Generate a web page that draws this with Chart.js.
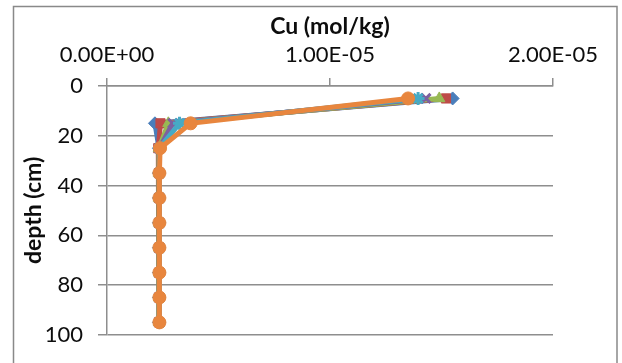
<!DOCTYPE html>
<html>
<head>
<meta charset="utf-8">
<script src="https://cdn.jsdelivr.net/npm/chart.js@4/dist/chart.umd.min.js"></script>
<style>
  html, body { margin: 0; padding: 0; background: #fff; }
  canvas { display: block; }
</style>
</head>
<body>
<canvas id="cu" width="622" height="363"></canvas>
<script>
// Sampling depths (cm) and Cu content (mol/kg) for each profile
const depths = [5, 15, 25, 35, 45, 55, 65, 75, 85, 95];
const profile1 = [1.55e-5, 2.15e-6, 2.33e-6, 2.33e-6, 2.33e-6, 2.33e-6, 2.33e-6, 2.33e-6, 2.33e-6, 2.33e-6];
const profile2 = [1.52e-5, 2.40e-6, 2.30e-6, 2.33e-6, 2.33e-6, 2.33e-6, 2.33e-6, 2.33e-6, 2.33e-6, 2.33e-6];
const profile3 = [1.49e-5, 2.75e-6, 2.33e-6, 2.33e-6, 2.33e-6, 2.33e-6, 2.33e-6, 2.33e-6, 2.33e-6, 2.33e-6];
const profile4 = [1.43e-5, 2.95e-6, 2.35e-6, 2.35e-6, 2.35e-6, 2.35e-6, 2.35e-6, 2.35e-6, 2.35e-6, 2.35e-6];
const profile5 = [1.395e-5, 3.25e-6, 2.35e-6, 2.35e-6, 2.35e-6, 2.35e-6, 2.35e-6, 2.35e-6, 2.35e-6, 2.35e-6];
const profile6 = [1.35e-5, 3.75e-6, 2.38e-6, 2.35e-6, 2.35e-6, 2.35e-6, 2.35e-6, 2.35e-6, 2.35e-6, 2.35e-6];

const seriesNames = ['Series1', 'Series2', 'Series3', 'Series4', 'Series5', 'Series6'];
const seriesValues = [profile1, profile2, profile3, profile4, profile5, profile6];
const seriesColors = ['#4A7EBB', '#BE4B48', '#98B954', '#7D60A0', '#46AAC5', '#E8863E'];
const seriesMarkers = ['rectRot', 'rect', 'triangle', 'crossRot', 'star', 'circle'];

const xTicks = [0, 1e-5, 2e-5];
const yTicks = [0, 20, 40, 60, 80, 100];

const gridColor = '#8e8e8e';
const textColor = '#0d0d0d';

function sci(v) {
  const [m, e] = v.toExponential(2).split('e');
  const n = parseInt(e, 10);
  return m.toUpperCase() + 'E' + (n < 0 ? '-' : '+') + String(Math.abs(n)).padStart(2, '0');
}

// Outer chart frame
const framePlugin = {
  id: 'frame',
  beforeDraw(chart) {
    const c = chart.ctx;
    c.save();
    c.fillStyle = '#fff';
    c.fillRect(0, 0, chart.width, chart.height);
    c.strokeStyle = '#898989';
    c.lineWidth = 1.5;
    c.strokeRect(13.5, 6.5, 603.5, 400);
    c.restore();
  }
};

function build() {
  const datasets = seriesValues.map((vals, i) => ({
    label: seriesNames[i],
    data: vals.map((v, k) => ({ x: v, y: depths[k] })),
    showLine: true,
    borderColor: seriesColors[i],
    backgroundColor: seriesColors[i],
    borderWidth: 5,
    pointStyle: seriesMarkers[i],
    pointRadius: 6.5,
    pointBorderWidth: seriesMarkers[i] === 'crossRot' || seriesMarkers[i] === 'star' ? 3 : 1,
    pointBorderColor: seriesColors[i],
    pointBackgroundColor: seriesColors[i],
    order: seriesValues.length - i
  }));

  new Chart(document.getElementById('cu'), {
    type: 'scatter',
    data: { datasets },
    plugins: [framePlugin],
    options: {
      responsive: false,
      animation: false,
      devicePixelRatio: 1,
      layout: { padding: { left: 0, top: 0, right: 69, bottom: 18 } },
      plugins: { legend: { display: false }, tooltip: { enabled: false } },
      scales: {
        x: {
          type: 'linear',
          position: 'top',
          min: xTicks[0],
          max: xTicks[xTicks.length - 1],
          afterBuildTicks: s => { s.ticks = xTicks.map(v => ({ value: v })); },
          afterFit: s => { s.height = 86; },
          ticks: {
            callback: v => sci(v),
            color: textColor,
            font: { family: 'Lato', size: 22 },
            padding: 10,
            maxRotation: 0
          },
          grid: {
            drawOnChartArea: false,
            color: gridColor,
            lineWidth: 1.5,
            tickLength: 8
          },
          border: { display: true, color: gridColor, width: 1.5 },
          title: {
            display: true,
            text: 'Cu (mol/kg)',
            color: textColor,
            font: { family: 'Lato', size: 23, weight: 'bold' },
            padding: { top: 13, bottom: 0 }
          }
        },
        y: {
          type: 'linear',
          reverse: true,
          min: yTicks[0],
          max: yTicks[yTicks.length - 1],
          afterBuildTicks: s => { s.ticks = yTicks.map(v => ({ value: v })); },
          afterFit: s => { s.width = 107; },
          ticks: {
            color: textColor,
            font: { family: 'Lato', size: 22 },
            padding: 15
          },
          grid: {
            drawOnChartArea: true,
            color: gridColor,
            lineWidth: 1.5,
            tickLength: 9
          },
          border: { display: true, color: gridColor, width: 1.5 },
          title: {
            display: true,
            text: 'depth (cm)',
            color: textColor,
            font: { family: 'Lato', size: 23, weight: 'bold' },
            padding: { top: 20, bottom: 0 }
          }
        }
      }
    }
  });
}

Promise.all([
  document.fonts.load('22px Lato'),
  document.fonts.load('bold 23px Lato')
]).then(build, build);
</script>
</body>
</html>
